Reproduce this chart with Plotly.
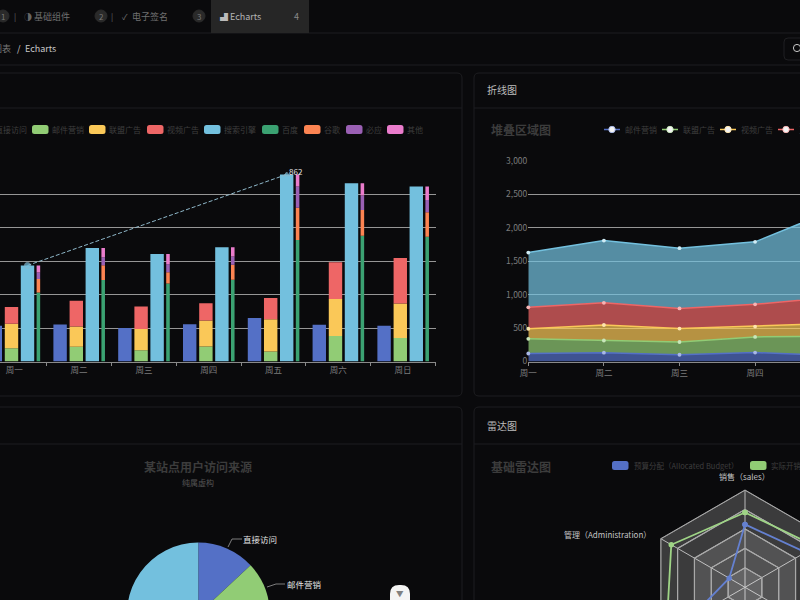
import plotly.graph_objects as go

W, H = 1000, 800
def X(p): return p / W
def Y(p): return 1 - p / H

BG = "#0a0a0c"
BORDER = "#1d1d20"
GRID = "#969696"
FONT = "Noto Sans CJK SC"

days = ["周一", "周二", "周三", "周四", "周五", "周六", "周日"]

# Bar chart
bar_direct = [320, 332, 301, 334, 390, 330, 320]
bar_email = [120, 132, 101, 134, 90, 230, 210]
bar_union = [220, 182, 191, 234, 290, 330, 310]
bar_video = [150, 232, 201, 154, 190, 330, 410]
bar_search = [862, 1018, 964, 1026, 1679, 1600, 1570]
bar_baidu = [620, 732, 701, 734, 1090, 1130, 1120]
bar_google = [120, 132, 101, 134, 290, 230, 220]
bar_bing = [60, 72, 71, 74, 190, 130, 110]
bar_other = [62, 82, 91, 84, 109, 110, 120]
bar_legend = ["直接访问", "邮件营销", "联盟广告", "视频广告", "搜索引擎", "百度", "谷歌", "必应", "其他"]
bar_legend_x = [-25, 32, 89, 147, 204, 262, 304, 346, 387]
bar_colors = ["#5470c6", "#91cc75", "#fac858", "#ee6666", "#73c0de", "#3ba272", "#fc8452", "#9a60b4", "#ea7ccc"]

# Stacked area chart
area_names = ["邮件营销", "联盟广告", "视频广告", "直接访问", "搜索引擎"]
area_email = [120, 132, 101, 134, 90, 230, 210]
area_union = [220, 182, 191, 234, 290, 330, 310]
area_video = [150, 232, 201, 154, 190, 330, 410]
area_direct = [320, 332, 301, 334, 390, 330, 320]
area_search = [820, 932, 901, 934, 1290, 1330, 1320]
area_colors = ["#5470c6", "#91cc75", "#fac858", "#ee6666", "#73c0de"]
area_marker_colors = ["#a9b8e6", "#c8e6ba", "#fde4ac", "#f7b3b3", "#d0ecf5"]
area_legend_x = [604, 662, 720, 778]

# Pie chart
pie_names = ["直接访问", "邮件营销", "联盟广告", "视频广告", "搜索引擎"]
pie_values = [335, 310, 234, 135, 1548]
pie_colors = ["#5470c6", "#91cc75", "#fac858", "#ee6666", "#73c0de"]

# Radar chart
radar_axes = ["销售（sales）", "管理（Administration）", "信息技术（IT）", "客服（Support）", "研发（Development）", "市场（Marketing）"]
radar_max = [6500, 16000, 30000, 38000, 52000, 25000]
radar_budget = [4200, 3000, 20000, 35000, 50000, 18000]
radar_actual = [5000, 14000, 28000, 26000, 42000, 21000]
radar_levels = [1.0, 0.8, 0.6, 0.4, 0.2]

fig = go.Figure()

def add_bars(vals, base, offset, width, color, name):
    fig.add_trace(go.Bar(x=list(range(7)), y=vals, base=base, width=width, offset=offset,
                         marker=dict(color=color, line=dict(width=0)), name=name,
                         xaxis="x", yaxis="y", showlegend=False))

def stacked(series, offset, width, colors, names):
    base = [0] * 7
    for s, c, n in zip(series, colors, names):
        add_bars(s, base, offset, width, c, n)
        base = [a + b for a, b in zip(base, s)]

BW = 0.207
add_bars(bar_direct, None, -0.397, BW, bar_colors[0], bar_legend[0])
stacked([bar_email, bar_union, bar_video], -0.147, BW, bar_colors[1:4], bar_legend[1:4])
add_bars(bar_search, None, 0.1, BW, bar_colors[4], bar_legend[4])
stacked([bar_baidu, bar_google, bar_bing, bar_other], 0.344, 0.055, bar_colors[5:9], bar_legend[5:9])

mark_x = [0 + 0.1 + BW / 2, 4 + 0.1 + BW / 2]
fig.add_trace(go.Scatter(x=mark_x, y=[bar_search[0], bar_search[4]], mode="lines+markers",
                         line=dict(color="#8fb8ca", width=1, dash="4px,2px"),
                         marker=dict(size=[6, 5], color="#73c0de", symbol=["circle", "triangle-up"]),
                         showlegend=False, xaxis="x", yaxis="y", cliponaxis=False))

series_area = [area_email, area_union, area_video, area_direct, area_search]
for name, vals, col, mc in zip(area_names, series_area, area_colors, area_marker_colors):
    r, g, b = int(col[1:3], 16), int(col[3:5], 16), int(col[5:7], 16)
    fig.add_trace(go.Scatter(x=days, y=vals, name=name, stackgroup="a", mode="lines+markers",
                             line=dict(color=col, width=1.5),
                             marker=dict(size=3.8, color=mc),
                             fillcolor=f"rgba({r},{g},{b},0.72)", showlegend=False,
                             xaxis="x2", yaxis="y2", cliponaxis=False))

fig.add_trace(go.Pie(labels=pie_names, values=pie_values, sort=False, direction="clockwise", rotation=0,
                     marker=dict(colors=pie_colors, line=dict(width=0)), textinfo="none", showlegend=False,
                     domain=dict(x=[X(126.9), X(269.7)], y=[Y(685.4), Y(542.6)])))

ring_colors = ["rgba(255,255,255,0.20)", "rgba(255,255,255,0.0)", "rgba(255,255,255,0.12)", "rgba(255,255,255,0.0)", "rgba(255,255,255,0.1)"]
theta_closed = radar_axes + radar_axes[:1]
for lvl, fc in zip(radar_levels, ring_colors):
    fig.add_trace(go.Scatterpolar(r=[lvl] * 7, theta=theta_closed, mode="lines", fill="toself",
                                  fillcolor=fc, line=dict(color="#a8a8a8", width=1.2), showlegend=False,
                                  hoverinfo="skip", subplot="polar"))
for vals, col, name in [(radar_budget, "#6480d0", "预算分配"), (radar_actual, "#9fd486", "实际开销")]:
    norm = [v / m for v, m in zip(vals, radar_max)]
    fig.add_trace(go.Scatterpolar(r=norm + norm[:1], theta=theta_closed, mode="lines+markers", name=name,
                                  line=dict(color=col, width=1.8), marker=dict(size=5.5, color=col),
                                  showlegend=False, subplot="polar"))

shapes, anns = [], []

def rrect_path(x0, y0, x1, y1, r):
    return (f"M {X(x0+r)} {Y(y0)} L {X(x1-r)} {Y(y0)} Q {X(x1)} {Y(y0)} {X(x1)} {Y(y0+r)} "
            f"L {X(x1)} {Y(y1-r)} Q {X(x1)} {Y(y1)} {X(x1-r)} {Y(y1)} L {X(x0+r)} {Y(y1)} "
            f"Q {X(x0)} {Y(y1)} {X(x0)} {Y(y1-r)} L {X(x0)} {Y(y0+r)} Q {X(x0)} {Y(y0)} {X(x0+r)} {Y(y0)} Z")

def rrect(x0, y0, x1, y1, r, fill="rgba(0,0,0,0)", line=None, layer="below"):
    shapes.append(dict(type="path", xref="paper", yref="paper", path=rrect_path(x0, y0, x1, y1, r),
                       fillcolor=fill, line=dict(color=line or "rgba(0,0,0,0)", width=1 if line else 0), layer=layer))

def hline(x0, x1, y, color=BORDER, width=1):
    shapes.append(dict(type="line", xref="paper", yref="paper", x0=X(x0), x1=X(x1), y0=Y(y), y1=Y(y),
                       line=dict(color=color, width=width), layer="below"))

def text(x, y, s, size=9, color="#666", anchor="left", bold=False):
    shift = {"left": -2, "right": 2, "center": 0}[anchor]
    anns.append(dict(xref="paper", yref="paper", x=X(x), y=Y(y), text=f"<b>{s}</b>" if bold else s, showarrow=False,
                     xanchor=anchor, yanchor="middle", xshift=shift, font=dict(size=size, color=color, family=FONT)))

def circle(cx, cy, r, fill, line=None, layer="below"):
    shapes.append(dict(type="circle", xref="paper", yref="paper", x0=X(cx-r), x1=X(cx+r), y0=Y(cy+r), y1=Y(cy-r),
                       fillcolor=fill, line=dict(color=line or fill, width=1), layer=layer))

# Chrome
hline(0, W, 33); hline(0, W, 65)
rrect(211, 0, 309, 33, 0, fill="#262626")
for cx, label in [(3, "1"), (101, "2"), (199, "3")]:
    circle(cx, 16, 6, "#2a2a2a")
    text(cx, 16, label, size=8, color="#777", anchor="center")
text(15, 16, "|", size=8, color="#666", anchor="center")
text(112, 16, "|", size=8, color="#666", anchor="center")
text(24, 16, "◑", size=8, color="#666")
text(34, 16, "基础组件", size=9, color="#707070")
text(122, 16, "✓", size=8, color="#777")
text(132, 16, "电子签名", size=9, color="#707070")
text(220, 16, "▟", size=8, color="#bbb")
text(230, 16, "Echarts", size=9, color="#b5b5b5")
text(296, 16, "4", size=9, color="#888", anchor="center")
text(11, 48, "图表", size=9, color="#777", anchor="right")
text(19, 48, "/", size=9, color="#ccc", anchor="center")
text(25, 48, "Echarts", size=9, color="#c8c8c8")
rrect(784, 38, 830, 60, 4, line="#1f1f22")
circle(797, 48, 3.6, "rgba(0,0,0,0)", line="#c8c8c8")

# Panels
rrect(-20, 73, 462, 396, 5, line=BORDER)
rrect(474, 73, 1000, 396, 5, line=BORDER)
rrect(-20, 407, 462, 820, 5, line=BORDER)
rrect(474, 407, 1000, 820, 5, line=BORDER)
hline(0, 462, 108); hline(474, W, 108); hline(0, 462, 444); hline(474, W, 444)
text(487, 89.5, "折线图", size=10, color="#bdbdbd")
text(487, 425.5, "雷达图", size=10, color="#bdbdbd")

# Bar legend
for name, x0, col in zip(bar_legend, bar_legend_x, bar_colors):
    rrect(x0, 125, x0 + 16.5, 134, 2.5, fill=col)
    text(x0 + 20, 129.5, name, size=8, color="#3e3e3e")

# Bar mark label
text(289, 172, str(bar_search[0]), size=8, color="#e8e8e8")

# Area legend and titles
text(491, 129.5, "堆叠区域图", size=12, color="#3c3c3c", bold=True)
for name, x0, col, mc in zip(area_names, area_legend_x, area_colors, area_marker_colors):
    hline(x0, x0 + 16, 129.5, color=col, width=1.5)
    circle(x0 + 8, 129.5, 3.2, "#f4f4f4", line=mc)
    text(x0 + 21, 129.5, name, size=8, color="#3e3e3e")

# Pie
text(198, 466, "某站点用户访问来源", size=12, color="#3c3c3c", anchor="center", bold=True)
text(198, 482, "纯属虚构", size=8, color="#555", anchor="center")
for pts, label, lx, ly in [([(228, 547), (232, 539), (242, 539)], pie_names[0], 243, 539),
                           ([(267, 587), (276, 584), (285, 584)], pie_names[1], 287, 584)]:
    for (a, b), (c, d) in zip(pts[:-1], pts[1:]):
        shapes.append(dict(type="line", xref="paper", yref="paper", x0=X(a), y0=Y(b), x1=X(c), y1=Y(d),
                           line=dict(color="#9a9a9a", width=0.8), layer="above"))
    text(lx, ly, label, size=8.5, color="#e6e6e6")

# Radar titles
text(491, 466, "基础雷达图", size=12, color="#3c3c3c", bold=True)
rrect(612, 461, 628.5, 470, 2.5, fill=bar_colors[0])
text(634, 465.5, "预算分配（Allocated Budget）", size=7.5, color="#3e3e3e")
rrect(750, 461, 766.5, 470, 2.5, fill=bar_colors[1])
text(771, 465.5, "实际开销（Actual Spending）", size=7.5, color="#3e3e3e")
text(744, 476, radar_axes[0], size=8, color="#c4c4c4", anchor="center")
text(651, 534, radar_axes[1], size=8, color="#c4c4c4", anchor="right")

# Floating button
rrect(390, 585, 410, 625, 9, fill="#f4f4f4", layer="above")
text(400, 593, "▼", size=7.5, color="#808080", anchor="center")

axis_font = dict(size=8.5, color="#7c7c7c", family=FONT)
fig.update_layout(
    width=W, height=H, margin=dict(l=0, r=0, t=0, b=0, autoexpand=False),
    paper_bgcolor=BG, plot_bgcolor="rgba(0,0,0,0)", barmode="overlay", showlegend=False,
    font=dict(family=FONT), shapes=shapes, annotations=anns,
    xaxis=dict(domain=[0, X(435.5)], range=[-0.221, 6.5], tickmode="array", tickvals=list(range(7)), ticktext=days,
               ticks="", tickfont=axis_font, showgrid=False, zeroline=False, showline=True, linecolor="#8a8a8a", linewidth=1,
               minor=dict(tickmode="array", tickvals=[i + 0.5 for i in range(-1, 7)], ticks="outside", ticklen=3, tickcolor="#8a8a8a", showgrid=False),
               anchor="y"),
    yaxis=dict(domain=[Y(361.5), Y(161)], range=[0, 1800], dtick=300, showticklabels=False, ticks="",
               gridcolor=GRID, gridwidth=1.4, zeroline=False, showline=False, anchor="x"),
    xaxis2=dict(domain=[X(528.3), X(800)], type="category", categoryorder="array", categoryarray=days,
                range=[0, 271.7 / 75.6], ticks="outside", ticklen=3, tickcolor="#8a8a8a", tickfont=axis_font, showgrid=False,
                zeroline=False, showline=True, linecolor="#8a8a8a", anchor="y2"),
    yaxis2=dict(domain=[Y(361.5), Y(161)], range=[0, 3000], dtick=500, tickformat=",d", tickfont=axis_font, ticks="",
                gridcolor=GRID, gridwidth=1.4, zeroline=False, showline=False, anchor="x2"),
    polar=dict(domain=dict(x=[X(745 - 97.3), X(745 + 97.3)], y=[Y(587.3 + 97.3), Y(587.3 - 97.3)]),
               bgcolor="rgba(0,0,0,0)", gridshape="linear",
               radialaxis=dict(range=[0, 1], showticklabels=False, ticks="", tickvals=radar_levels, showline=False,
                               gridcolor="#a8a8a8", gridwidth=1),
               angularaxis=dict(categoryorder="array", categoryarray=radar_axes, direction="counterclockwise", rotation=90,
                                ticks="", showticklabels=False, gridcolor="#a8a8a8", linecolor="#a8a8a8")),
)

fig.write_html("out.html", config=dict(displayModeBar=False),
               post_script="document.body.style.margin='0';document.documentElement.style.overflow='hidden';document.body.style.overflow='hidden';document.documentElement.style.background='#0a0a0c';")
